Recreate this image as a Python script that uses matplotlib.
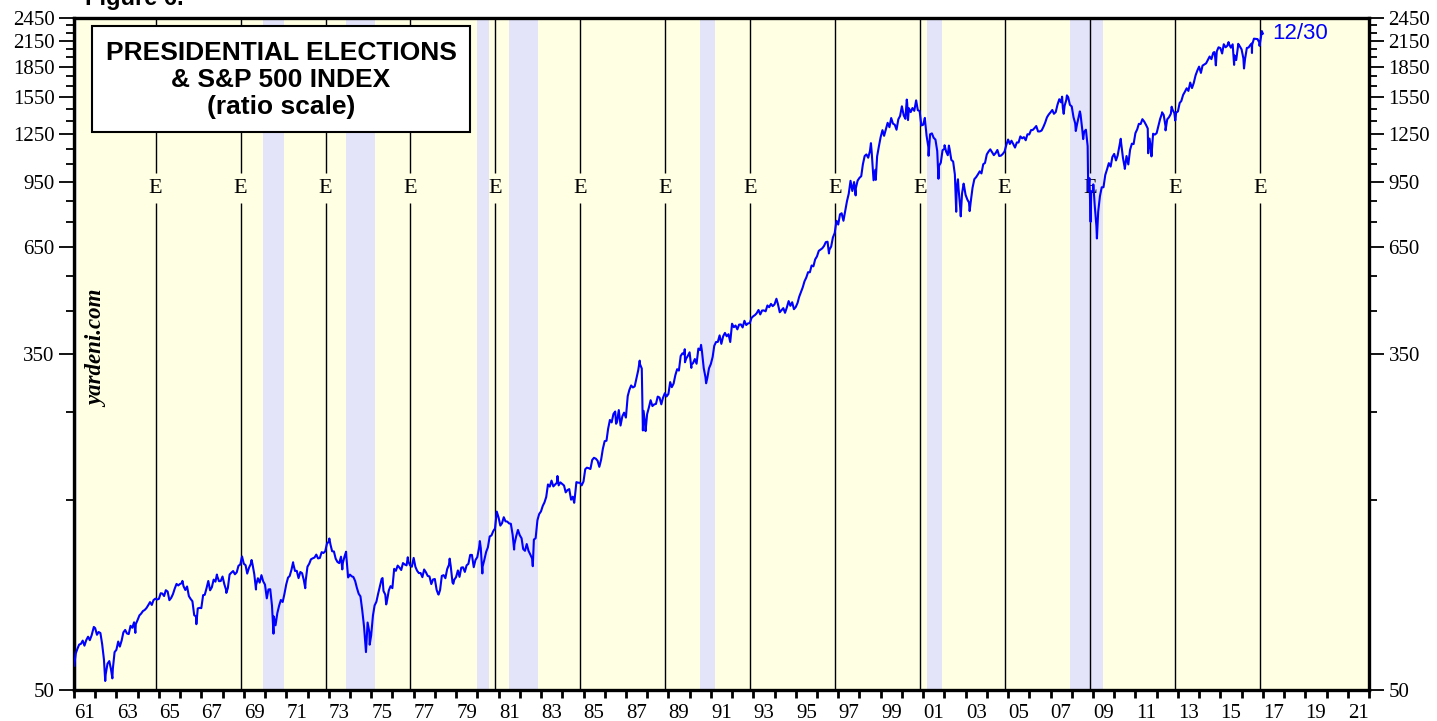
import numpy as np
import pandas as pd
import matplotlib
matplotlib.use("Agg")
import matplotlib.pyplot as plt
from matplotlib.ticker import FixedLocator, NullFormatter, FixedFormatter
from matplotlib.patches import Rectangle

# ---------------- data ----------------
first_date = "1961-01-03"
first_value = 57.57

# S&P 500 month-end closes, Jan 1961 .. Dec 2016
sp500_monthly = [
    61.78, 63.44, 65.06, 65.31, 66.56, 64.64, 66.76, 68.07, 66.73, 68.62, 71.32, 71.55,
    68.84, 69.96, 69.55, 65.24, 59.63, 54.75, 58.23, 59.12, 56.27, 56.52, 62.26, 63.10,
    66.20, 64.29, 66.57, 69.80, 70.80, 69.37, 69.13, 72.50, 71.70, 74.01, 73.23, 75.02,
    77.04, 77.80, 78.98, 79.46, 80.37, 81.69, 83.18, 81.83, 84.18, 84.86, 84.42, 84.75,
    87.56, 87.43, 86.16, 89.11, 88.42, 84.12, 85.25, 87.17, 89.96, 92.42, 91.61, 92.43,
    92.88, 91.22, 89.23, 91.06, 86.13, 84.74, 83.60, 77.10, 76.56, 80.20, 80.45, 80.33,
    86.61, 86.78, 90.20, 94.01, 89.08, 90.64, 94.75, 93.64, 96.71, 93.90, 94.00, 96.47,
    92.24, 89.36, 90.20, 97.59, 98.68, 99.58, 97.74, 98.86, 102.67, 103.41, 108.37, 103.86,
    103.01, 98.13, 101.51, 103.69, 103.46, 97.71, 91.83, 95.51, 93.12, 97.24, 93.81, 92.06,
    85.02, 89.50, 89.63, 81.52, 76.55, 72.72, 78.05, 81.52, 84.21, 83.25, 87.20, 92.15,
    95.88, 96.75, 100.31, 103.95, 99.63, 99.70, 95.58, 99.03, 98.34, 94.23, 93.99, 102.09,
    103.94, 106.57, 107.20, 107.67, 109.53, 107.14, 107.39, 111.09, 110.55, 111.58, 116.67, 118.05,
    116.03, 111.68, 111.52, 106.97, 104.95, 104.26, 108.22, 104.25, 108.43, 108.29, 95.96, 97.55,
    96.57, 96.22, 93.98, 90.31, 87.28, 86.00, 79.31, 72.15, 63.54, 73.90, 69.97, 68.56,
    76.98, 81.59, 83.36, 87.30, 91.15, 95.19, 88.75, 86.88, 83.87, 89.04, 91.24, 90.19,
    100.86, 99.71, 102.77, 101.64, 100.18, 104.28, 103.44, 102.91, 105.24, 102.90, 102.10, 107.46,
    102.03, 99.82, 98.42, 98.44, 96.12, 100.48, 98.85, 96.77, 96.53, 92.34, 94.83, 95.10,
    89.25, 87.04, 89.21, 96.83, 97.24, 95.53, 100.68, 103.29, 102.54, 93.15, 94.70, 96.11,
    99.93, 96.28, 101.59, 101.76, 99.08, 102.91, 103.81, 109.32, 109.32, 101.82, 106.16, 107.94,
    114.16, 113.66, 102.09, 106.29, 111.24, 114.24, 121.67, 122.38, 125.46, 127.47, 140.52, 135.76,
    129.55, 131.27, 136.00, 132.81, 132.59, 131.21, 130.92, 122.79, 116.18, 121.89, 126.35, 122.55,
    120.40, 113.11, 111.96, 116.44, 111.88, 109.61, 107.09, 119.51, 120.42, 133.71, 138.54, 140.64,
    145.30, 148.06, 152.96, 164.42, 162.39, 168.11, 162.56, 164.40, 166.07, 163.55, 166.40, 164.93,
    163.41, 157.06, 159.18, 160.05, 150.55, 153.18, 150.66, 166.68, 166.10, 166.09, 163.58, 167.24,
    179.63, 181.18, 180.66, 179.83, 189.55, 191.85, 190.92, 188.63, 182.08, 189.82, 202.17, 211.28,
    211.78, 226.92, 238.90, 235.52, 247.35, 250.84, 236.12, 252.93, 231.32, 243.98, 249.22, 242.17,
    274.08, 284.20, 291.70, 288.36, 290.10, 304.00, 318.66, 329.80, 321.83, 251.79, 230.30, 247.08,
    257.07, 267.82, 258.89, 261.33, 262.16, 273.50, 272.02, 261.52, 271.91, 278.97, 273.70, 277.72,
    297.47, 288.86, 294.87, 309.64, 320.52, 317.98, 346.08, 351.45, 349.15, 340.36, 345.99, 353.40,
    329.08, 331.89, 339.94, 330.80, 361.23, 358.02, 356.15, 322.56, 306.05, 304.00, 322.22, 330.22,
    343.93, 367.07, 375.22, 375.35, 389.83, 371.16, 387.81, 395.43, 387.86, 392.46, 375.22, 417.09,
    408.79, 412.70, 403.69, 414.95, 415.35, 408.14, 424.21, 414.03, 417.80, 418.68, 431.35, 435.71,
    438.78, 443.38, 451.67, 440.19, 450.19, 450.53, 448.13, 463.56, 458.93, 467.83, 461.79, 466.45,
    481.61, 467.14, 445.77, 450.91, 456.50, 444.27, 458.26, 475.49, 462.69, 472.35, 453.69, 459.27,
    470.42, 487.39, 500.71, 514.71, 533.40, 544.75, 562.06, 561.88, 584.41, 581.50, 605.37, 615.93,
    636.02, 640.43, 645.50, 654.17, 669.12, 670.63, 639.95, 651.99, 687.31, 705.27, 757.02, 740.74,
    786.16, 790.82, 757.12, 801.34, 848.28, 885.14, 954.31, 899.47, 947.28, 914.62, 955.40, 970.43,
    980.28, 1049.34, 1101.75, 1111.75, 1090.82, 1133.84, 1120.67, 957.28, 1017.01, 1098.67, 1163.63, 1229.23,
    1279.64, 1238.33, 1286.37, 1335.18, 1301.84, 1372.71, 1328.72, 1320.41, 1282.71, 1362.93, 1388.91, 1469.25,
    1394.46, 1366.42, 1498.58, 1452.43, 1420.60, 1454.60, 1430.83, 1517.68, 1436.51, 1429.40, 1314.95, 1320.28,
    1366.01, 1239.94, 1160.33, 1249.46, 1255.82, 1224.42, 1211.23, 1133.58, 1040.94, 1059.78, 1139.45, 1148.08,
    1130.20, 1106.73, 1147.39, 1076.92, 1067.14, 989.82, 911.62, 916.07, 815.28, 885.76, 936.31, 879.82,
    855.70, 841.15, 848.18, 916.92, 963.59, 974.50, 990.31, 1008.01, 995.97, 1050.71, 1058.20, 1111.92,
    1131.13, 1144.94, 1126.21, 1107.30, 1120.68, 1140.84, 1101.72, 1104.24, 1114.58, 1130.20, 1173.82, 1211.92,
    1181.27, 1203.60, 1180.59, 1156.85, 1191.50, 1191.33, 1234.18, 1220.33, 1228.81, 1207.01, 1249.48, 1248.29,
    1280.08, 1280.66, 1294.87, 1310.61, 1270.09, 1270.20, 1276.66, 1303.82, 1335.85, 1377.94, 1400.63, 1418.30,
    1438.24, 1406.82, 1420.86, 1482.37, 1530.62, 1503.35, 1455.27, 1473.99, 1526.75, 1549.38, 1481.14, 1468.36,
    1378.55, 1330.63, 1322.70, 1385.59, 1400.38, 1280.00, 1267.38, 1282.83, 1166.36, 968.75, 896.24, 903.25,
    825.88, 735.09, 797.87, 872.81, 919.14, 919.32, 987.48, 1020.62, 1057.08, 1036.19, 1095.63, 1115.10,
    1073.87, 1104.49, 1169.43, 1186.69, 1089.41, 1030.71, 1101.60, 1049.33, 1141.20, 1183.26, 1180.55, 1257.64,
    1286.12, 1327.22, 1325.83, 1363.61, 1345.20, 1320.64, 1292.28, 1218.89, 1131.42, 1253.30, 1246.96, 1257.60,
    1312.41, 1365.68, 1408.47, 1397.91, 1310.33, 1362.16, 1379.32, 1406.58, 1440.67, 1412.16, 1416.18, 1426.19,
    1498.11, 1514.68, 1569.19, 1597.57, 1630.74, 1606.28, 1685.73, 1632.97, 1681.55, 1756.54, 1805.81, 1848.36,
    1782.59, 1859.45, 1872.34, 1883.95, 1923.57, 1960.23, 1930.67, 2003.37, 1972.29, 2018.05, 2067.56, 2058.90,
    1994.99, 2104.50, 2067.89, 2085.51, 2107.39, 2063.11, 2103.84, 1972.18, 1920.03, 2079.36, 2080.41, 2043.94,
    1940.24, 1932.23, 2059.74, 2065.30, 2096.95, 2098.86, 2173.60, 2170.95, 2168.27, 2126.15, 2198.81, 2238.83,
]

# intra-month swing points (weekly/daily extremes)
extreme_dates = [
    "1961-12-08", "1962-06-22", "1962-10-23", "1963-11-22", "1966-02-09", "1966-10-07",
    "1967-09-25", "1968-03-05", "1969-05-14", "1969-07-29", "1970-05-26", "1971-04-28",
    "1971-11-23", "1973-01-11", "1973-08-22", "1973-10-26", "1974-10-03", "1974-12-06",
    "1975-07-15", "1975-09-16", "1976-09-21", "1978-03-06", "1978-09-12", "1978-11-14",
    "1980-02-13", "1980-03-27", "1981-09-25", "1982-08-12", "1983-10-10", "1984-07-24",
    "1986-07-15", "1987-08-25", "1987-10-19", "1987-12-04", "1989-10-09", "1989-10-13",
    "1990-01-30", "1990-07-16", "1990-10-11", "1994-02-02", "1996-07-24", "1997-10-27",
    "1998-07-17", "1998-10-08", "2000-03-24", "2000-04-14", "2000-09-01", "2001-01-30",
    "2001-04-04", "2001-09-21", "2002-01-04", "2002-03-19", "2002-07-23", "2002-08-22",
    "2002-10-09", "2002-11-27", "2003-03-11", "2007-07-19", "2007-08-15", "2007-10-09",
    "2008-03-10", "2008-05-19", "2008-07-15", "2008-10-10", "2008-11-20", "2009-01-06",
    "2009-03-09", "2010-04-23", "2010-07-02", "2011-04-29", "2011-08-08", "2011-10-03",
    "2012-04-02", "2012-06-01", "2012-09-14", "2012-11-15", "2014-09-18", "2014-10-15",
    "2015-05-21", "2015-08-25", "2015-11-03", "2016-02-11", "2016-06-23", "2016-06-27",
    "2016-11-04", "2016-12-13",
]
extreme_values = [
    72.04, 52.68, 53.49, 69.61, 94.06, 73.20,
    97.59, 87.72, 106.16, 89.48, 69.29, 104.77,
    90.16, 120.24, 100.53, 111.38, 62.28, 65.01,
    95.61, 82.09, 107.83, 86.90, 106.99, 92.49,
    118.44, 98.22, 112.77, 102.42, 172.65, 147.82,
    233.66, 336.77, 224.84, 223.92, 359.80, 333.65,
    322.98, 368.95, 295.46, 482.00, 626.65, 876.99,
    1186.75, 959.44, 1527.46, 1356.56, 1520.77, 1373.73,
    1103.25, 965.80, 1172.51, 1170.29, 797.70, 962.70,
    776.76, 938.87, 800.73, 1553.08, 1406.70, 1565.15,
    1273.37, 1426.63, 1214.91, 899.22, 752.44, 934.70,
    683.38, 1217.28, 1022.58, 1363.61, 1119.46, 1099.23,
    1419.04, 1278.04, 1465.77, 1353.33, 2011.36, 1862.49,
    2130.82, 1867.61, 2109.79, 1829.08, 2113.32, 2000.54,
    2085.18, 2271.72,
]

election_dates = ["1964-11-03", "1968-11-05", "1972-11-07", "1976-11-02", "1980-11-04",
                  "1984-11-06", "1988-11-08", "1992-11-03", "1996-11-05", "2000-11-07",
                  "2004-11-02", "2008-11-04", "2012-11-06", "2016-11-08"]

recession_starts = ["1960-04-15", "1969-12-01", "1973-11-01", "1980-01-01", "1981-07-01",
                    "1990-07-01", "2001-03-01", "2007-12-01"]
recession_ends = ["1961-02-15", "1970-11-15", "1975-03-15", "1980-07-15", "1982-11-15",
                  "1991-03-15", "2001-11-15", "2009-06-15"]

y_major = [50, 350, 650, 950, 1250, 1550, 1850, 2150, 2450]
y_minor = list(range(150, 2450, 100))
x_years = list(range(1961, 2023))
x_label_years = list(range(1961, 2022, 2))


def decyear(s):
    t = pd.Timestamp(s)
    return t.year + (t.dayofyear - 1) / 365.25


# ---------------- build series ----------------
month_ends = pd.date_range("1961-01-31", periods=len(sp500_monthly), freq="ME")
xs = [decyear(first_date)] + [decyear(d) for d in month_ends] + [decyear(d) for d in extreme_dates]
ys = [first_value] + list(sp500_monthly) + list(extreme_values)
order = np.argsort(xs)
xs = np.array(xs)[order]
ys = np.array(ys)[order]

# ---------------- figure ----------------
BG = "#FFFFE3"
REC = "#E3E3FA"
BLUE = "#0000FF"

fig = plt.figure(figsize=(14.37, 7.21), dpi=100)
ax = fig.add_axes([74 / 1437, 31 / 721, (1369 - 74) / 1437, (690 - 18) / 721])
ax.set_facecolor(BG)
ax.set_yscale("log")
ax.set_xlim(1961, 2022)
ax.set_ylim(50, 2450)

for s, e in zip(recession_starts, recession_ends):
    ax.axvspan(decyear(s), decyear(e), color=REC, lw=0, zorder=1)

# election lines, broken around the "E" marker
gap_low, gap_high = 840, 1000
for d in election_dates:
    x = decyear(d)
    ax.vlines(x, 50, gap_low, color="black", lw=1.0, zorder=2)
    ax.vlines(x, gap_high, 2450, color="black", lw=1.0, zorder=2)
    ax.text(x, 915, "E", ha="center", va="center", fontsize=16,
            family="Liberation Serif", zorder=3)

ax.plot(xs, ys, color=BLUE, lw=1.5, zorder=5)

ax.annotate("12/30", xy=(xs[-1], ys[-1]), xytext=(7, 0), textcoords="offset points",
            ha="left", va="center", color=BLUE, fontsize=16, family="Liberation Sans")

# y axis (both sides)
ax.yaxis.set_major_locator(FixedLocator(y_major))
ax.yaxis.set_major_formatter(FixedFormatter([str(v) for v in y_major]))
ax.yaxis.set_minor_locator(FixedLocator(y_minor))
ax.yaxis.set_minor_formatter(NullFormatter())
ax.tick_params(axis="y", which="major", direction="out", length=11, width=1.3,
               labelsize=15, pad=3, left=True, right=True, labelleft=True, labelright=True)
ax.tick_params(axis="y", which="minor", direction="out", length=6, width=1.3,
               left=True, right=True)

# x axis: ticks at year boundaries, labels centered in odd years
ax.xaxis.set_major_locator(FixedLocator(x_years))
ax.xaxis.set_major_formatter(NullFormatter())
ax.xaxis.set_minor_locator(FixedLocator([y + 0.5 for y in x_label_years]))
ax.xaxis.set_minor_formatter(FixedFormatter([f"{y % 100:02d}" for y in x_label_years]))
ax.tick_params(axis="x", which="major", direction="out", length=6, width=2.0, top=False)
ax.tick_params(axis="x", which="minor", length=0, labelsize=15, pad=10, top=False)

plt.setp(ax.yaxis.get_majorticklabels(), family="Liberation Serif")
plt.setp(ax.xaxis.get_minorticklabels(), family="Liberation Serif")

for sp in ax.spines.values():
    sp.set_linewidth(2.4)

# title box
ax.add_patch(Rectangle(((92 - 74) / 1295, (690 - 132) / 672),
                       (470 - 92) / 1295, (132 - 26) / 672, transform=ax.transAxes,
                       facecolor="white", edgecolor="black", lw=1.5, zorder=6))
cx = ((92 + 470) / 2 - 74) / 1295
for txt, ypix in [("PRESIDENTIAL ELECTIONS", 53), ("& S&P 500 INDEX", 80), ("(ratio scale)", 107)]:
    ax.text(cx, (690 - ypix) / 672, txt, transform=ax.transAxes, ha="center", va="center",
            fontsize=19, fontweight="bold", family="Liberation Sans", zorder=7)

ax.text((98 - 74) / 1295, (690 - 349) / 672, "yardeni.com", transform=ax.transAxes,
        rotation=90, ha="center", va="center", fontsize=16.5, fontstyle="italic",
        fontweight="bold", family="Liberation Serif", zorder=6)

fig.text(85 / 1437, (721 - 5) / 721, "Figure 6.", ha="left", va="baseline",
         fontsize=17, fontweight="bold", family="Liberation Sans")

fig.savefig("out.png", dpi=100)
